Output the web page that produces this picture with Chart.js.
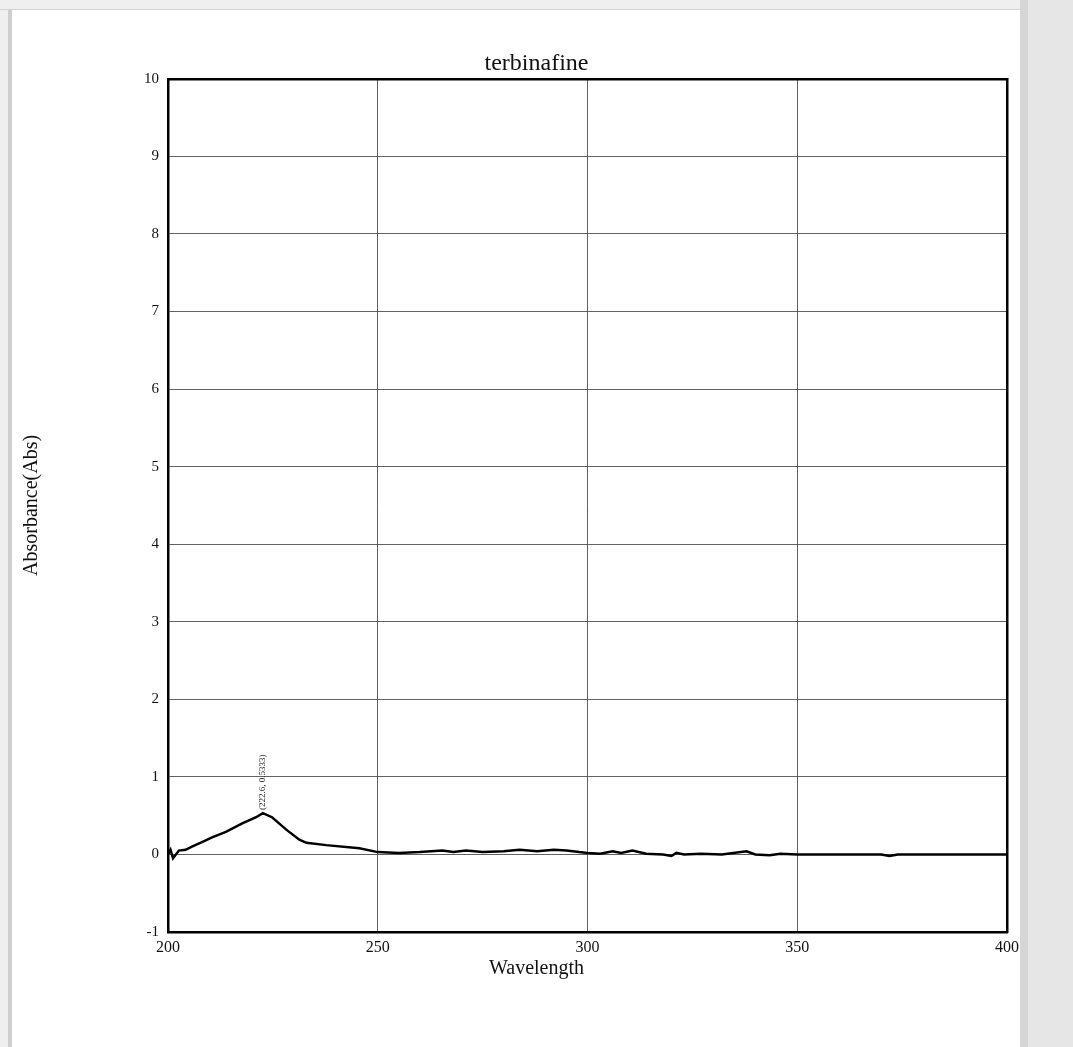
<!DOCTYPE html>
<html>
<head>
<meta charset="utf-8">
<title>terbinafine</title>
<script src="https://cdn.jsdelivr.net/npm/chart.js@4.4.1/dist/chart.umd.min.js"></script>
<style>
  body { margin: 0; background: #efefef; }
  .page { position: absolute; left: 8px; top: 10px; width: 1012px; height: 1037px; background: #fff; border-left: 4px solid #cfcfcf; box-sizing: border-box; }
  .side { position: absolute; left: 1020px; top: 0; width: 53px; height: 1047px; background: #e6e6e6; border-left: 8px solid #d6d6d6; box-sizing: border-box; }
  .topline { position: absolute; left: 0; top: 9px; width: 1020px; height: 1px; background: #d2d2d2; }
  #spectrum { position: absolute; left: 0; top: 0; }
</style>
</head>
<body>
<div class="page"></div>
<div class="side"></div>
<div class="topline"></div>
<canvas id="spectrum" width="1073" height="1047"></canvas>
<script>
const wavelength = [200, 200.6, 201.2, 202.6, 204.2, 205.7, 208.1, 210.5, 213.8, 217.7, 221, 222.6, 224.8, 228.2, 231.3, 233, 237.7, 245.6, 250, 255, 260, 265.4, 268, 271, 275, 280, 283.8, 288, 292, 295, 298, 300, 303, 306, 308, 310.7, 314, 318, 320, 321.2, 323, 327, 332, 337.9, 340, 343.4, 346, 350, 360, 370, 372, 374, 380, 390, 400];
const absorbance = [0.0, 0.06, -0.05, 0.05, 0.06, 0.1, 0.16, 0.22, 0.29, 0.4, 0.48, 0.5333, 0.48, 0.32, 0.19, 0.15, 0.12, 0.08, 0.03, 0.02, 0.03, 0.05, 0.03, 0.05, 0.03, 0.04, 0.06, 0.04, 0.06, 0.05, 0.03, 0.02, 0.01, 0.04, 0.02, 0.05, 0.01, 0.0, -0.02, 0.02, 0.0, 0.01, 0.0, 0.04, 0.0, -0.01, 0.01, 0.0, 0.0, 0.0, -0.02, 0.0, 0.0, 0.0, 0.0];

const xTicks = [200, 250, 300, 350, 400];
const yTicks = [-1, 0, 1, 2, 3, 4, 5, 6, 7, 8, 9, 10];

const peakWavelength = 222.6;
const peakAbs = 0.5333;
const peakLabel = `(${peakWavelength}, ${peakAbs})`;

const serif = "'Liberation Serif', 'Times New Roman', serif";
const gridColor = "rgba(70,70,70,0.85)";

const points = wavelength.map((w, i) => ({ x: w, y: absorbance[i] }));

const peakLabelPlugin = {
  id: "peakLabel",
  afterDatasetsDraw: (chart) => {
    const { ctx, scales } = chart;
    const px = scales.x.getPixelForValue(peakWavelength);
    const py = scales.y.getPixelForValue(peakAbs);
    ctx.save();
    ctx.translate(px, py - 3);
    ctx.rotate(-Math.PI / 2);
    ctx.font = `9px ${serif}`;
    ctx.fillStyle = "#222";
    ctx.textAlign = "left";
    ctx.textBaseline = "middle";
    ctx.fillText(peakLabel, 0, 0);
    ctx.restore();
  }
};

const ctx = document.getElementById("spectrum");

new Chart(ctx, {
  type: "line",
  data: {
    datasets: [{
      label: "terbinafine",
      data: points,
      borderColor: "#000",
      borderWidth: 2.5,
      pointRadius: 0,
      tension: 0,
      fill: false
    }]
  },
  options: {
    responsive: false,
    animation: false,
    layout: { padding: 0 },
    plugins: {
      legend: { display: false },
      tooltip: { enabled: false },
      title: {
        display: true,
        text: "terbinafine",
        color: "#111",
        font: { family: serif, size: 24, weight: "normal" },
        padding: { top: 49, bottom: 0 }
      },
      subtitle: {
        display: true,
        position: "bottom",
        text: "Wavelength",
        color: "#111",
        font: { family: serif, size: 20, weight: "normal" },
        padding: { top: 0, bottom: 66 }
      }
    },
    scales: {
      x: {
        type: "linear",
        position: "bottom",
        min: 200,
        max: 400,
        afterBuildTicks: (scale) => { scale.ticks = xTicks.map((v) => ({ value: v })); },
        afterFit: (scale) => { scale.height = 25; },
        ticks: { color: "#111", font: { family: serif, size: 16 }, padding: 6, maxRotation: 0 },
        grid: { color: gridColor, lineWidth: 1, drawTicks: false },
        border: { color: "#000", width: 2.5 }
      },
      x2: {
        type: "linear",
        position: "top",
        min: 200,
        max: 400,
        afterFit: (scale) => { scale.height = 1; },
        ticks: { display: false },
        grid: { display: false, drawTicks: false },
        border: { display: true, color: "#000", width: 2.5 }
      },
      y: {
        type: "linear",
        position: "left",
        min: -1,
        max: 10,
        afterBuildTicks: (scale) => { scale.ticks = yTicks.map((v) => ({ value: v })); },
        afterFit: (scale) => { scale.width = 168; },
        ticks: { color: "#111", font: { family: serif, size: 15 }, padding: 9 },
        grid: { color: gridColor, lineWidth: 1, drawTicks: false },
        border: { color: "#000", width: 2.5 },
        title: {
          display: true,
          text: "Absorbance(Abs)",
          color: "#111",
          font: { family: serif, size: 20, weight: "normal" },
          padding: { top: 20, bottom: 0 }
        }
      },
      y2: {
        type: "linear",
        position: "right",
        min: -1,
        max: 10,
        afterFit: (scale) => { scale.width = 66; },
        ticks: { display: false },
        grid: { display: false, drawTicks: false },
        border: { display: true, color: "#000", width: 2.5 }
      }
    }
  },
  plugins: [peakLabelPlugin]
});
</script>
</body>
</html>
